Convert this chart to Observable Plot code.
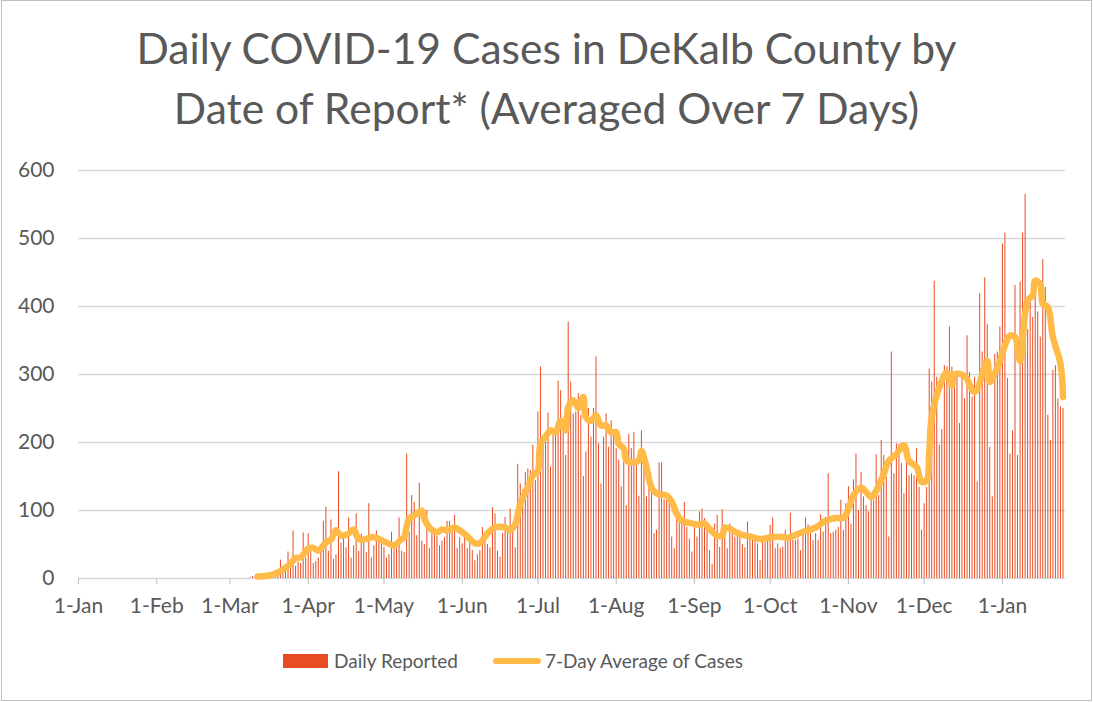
<!DOCTYPE html>
<html>
<head>
<meta charset="utf-8">
<script src="https://cdn.jsdelivr.net/npm/d3@7"></script>
<script src="https://cdn.jsdelivr.net/npm/@observablehq/plot@0.6"></script>
<style>
  body { margin: 0; background: #fff; font-family: Lato, "Open Sans", sans-serif; }
  #frame { position: absolute; left: 1px; top: 0px; width: 1091px; height: 701px; border: 1px solid #BFBFBF; box-sizing: border-box; }
  #title { position: absolute; left: 0; top: 18px; width: 1093px; text-align: center; color: #595959; font-size: 42.6px; line-height: 60px; }
  #chart { position: absolute; left: 0; top: 150px; }
  .lg { position: absolute; color: #595959; font-size: 19px; line-height: 20px; }
</style>
</head>
<body>
<div id="frame"></div>
<div id="title">Daily COVID-19 Cases in DeKalb County by<br>Date of Report* (Averaged Over 7 Days)</div>
<div id="chart"></div>
<div style="position:absolute;left:283px;top:654px;width:45px;height:14px;background:#E84C22"></div>
<div class="lg" style="left:334px;top:651px">Daily Reported</div>
<div style="position:absolute;left:493px;top:658px;width:48px;height:6px;border-radius:3px;background:#FFBA47"></div>
<div class="lg" style="left:545px;top:651px">7-Day Average of Cases</div>
<script>
// Daily reported cases, one value per day, each array starts on the given date
const dailyMar2020 = [1,3,2,3,5,2,4,6,5,8,12,10,27,9,15,39,20,70,18,24,22,67,30]; // from 2020-03-09
const dailyApr2020 = [66,45,22,25,30,48,84,105,40,86,28,35,157,52,60,45,89,30,48,95,40,65,55,38,110,30,48,70,62,55];
const dailyMay2020 = [46,30,35,68,52,45,89,40,38,183,68,122,112,63,140,55,50,100,44,75,70,62,48,55,60,84,84,72,93,44,60];
const dailyJun2020 = [51,60,44,58,41,26,35,41,75,68,50,45,104,95,40,31,66,90,72,102,80,45,168,139,130,156,161,159,196,144];
const dailyJul2020 = [245,311,210,213,243,164,213,223,290,276,230,181,377,289,242,245,272,240,150,186,250,208,250,326,198,139,208,242,193,232,215];
const dailyAug2020 = [191,174,135,171,107,212,191,215,174,121,217,183,120,132,132,66,71,170,170,116,115,115,61,44,95,90,90,112,75,58,39];
const dailySep2020 = [83,61,98,102,88,75,41,21,80,93,46,101,61,44,80,73,61,66,70,50,45,83,58,58,56,51,26,53,53,60];
const dailyOct2020 = [78,89,44,51,44,46,71,56,96,56,56,58,41,71,89,79,71,56,66,56,94,68,90,154,66,68,71,75,115,71,110];
const dailyNov2020 = [135,80,145,183,100,156,120,107,98,115,115,182,122,203,181,149,61,333,154,198,197,169,125,183,151,154,151,191,134,71];
const dailyDec2020 = [110,134,308,289,437,296,196,219,313,311,370,311,286,301,228,296,264,357,303,267,296,142,419,333,442,374,193,120,330,333,370];
const dailyJan2021 = [492,508,294,183,217,431,181,436,508,565,366,406,384,429,392,355,469,428,240,203,306,313,264,252,250];
const dailyStarts = ["2020-03-09","2020-04-01","2020-05-01","2020-06-01","2020-07-01","2020-08-01","2020-09-01","2020-10-01","2020-11-01","2020-12-01","2021-01-01"];
const dailyMonths = [dailyMar2020,dailyApr2020,dailyMay2020,dailyJun2020,dailyJul2020,dailyAug2020,dailySep2020,dailyOct2020,dailyNov2020,dailyDec2020,dailyJan2021];

// 7-day average line
const avgDates = ["2020-03-12","2020-03-16","2020-03-19","2020-03-22","2020-03-25","2020-03-27","2020-03-29","2020-04-01","2020-04-03","2020-04-05","2020-04-08","2020-04-10","2020-04-12","2020-04-14","2020-04-17","2020-04-19","2020-04-21","2020-04-24","2020-04-26","2020-04-29","2020-05-03","2020-05-05","2020-05-08","2020-05-09","2020-05-11","2020-05-14","2020-05-16","2020-05-17","2020-05-19","2020-05-22","2020-05-24","2020-05-26","2020-05-29","2020-05-31","2020-06-03","2020-06-06","2020-06-08","2020-06-10","2020-06-12","2020-06-14","2020-06-18","2020-06-20","2020-06-22","2020-06-24","2020-06-27","2020-06-29","2020-07-01","2020-07-02","2020-07-04","2020-07-06","2020-07-08","2020-07-10","2020-07-12","2020-07-13","2020-07-15","2020-07-17","2020-07-19","2020-07-20","2020-07-22","2020-07-24","2020-07-26","2020-07-28","2020-07-30","2020-08-01","2020-08-02","2020-08-04","2020-08-05","2020-08-07","2020-08-10","2020-08-11","2020-08-13","2020-08-15","2020-08-17","2020-08-21","2020-08-23","2020-08-25","2020-08-27","2020-08-31","2020-09-03","2020-09-05","2020-09-07","2020-09-10","2020-09-12","2020-09-13","2020-09-16","2020-09-19","2020-09-23","2020-09-27","2020-10-02","2020-10-06","2020-10-08","2020-10-13","2020-10-19","2020-10-23","2020-10-27","2020-10-30","2020-11-01","2020-11-03","2020-11-06","2020-11-10","2020-11-12","2020-11-15","2020-11-17","2020-11-20","2020-11-23","2020-11-25","2020-11-28","2020-11-30","2020-12-02","2020-12-03","2020-12-04","2020-12-07","2020-12-10","2020-12-12","2020-12-13","2020-12-17","2020-12-21","2020-12-26","2020-12-27","2020-12-30","2021-01-04","2021-01-06","2021-01-08","2021-01-11","2021-01-13","2021-01-14","2021-01-16","2021-01-17","2021-01-19","2021-01-21","2021-01-24","2021-01-25"];
const avgValues = [3,4,7,13,22,30,31,44,45,41,53,57,71,63,66,72,58,58,61,58,51,49,58,61,88,95,100,88,75,68,72,71,75,71,62,52,52,61,70,75,75,71,80,110,134,151,159,198,208,218,215,232,218,252,262,251,267,237,232,240,225,225,215,215,198,191,174,171,174,188,164,134,125,122,113,95,85,81,79,81,73,63,63,75,71,65,62,58,61,61,60,67,75,85,89,89,102,122,134,120,129,154,173,183,196,173,164,142,144,183,237,281,303,284,300,298,274,320,289,310,357,355,320,409,416,438,433,404,399,355,316,267];

const yTicks = [0,100,200,300,400,500,600];
const xTickDates = ["2020-01-01","2020-02-01","2020-03-01","2020-04-01","2020-05-01","2020-06-01","2020-07-01","2020-08-01","2020-09-01","2020-10-01","2020-11-01","2020-12-01","2021-01-01"];

const daily = [];
dailyMonths.forEach((arr, i) => {
  const start = new Date(dailyStarts[i]);
  arr.forEach((v, j) => daily.push({date: d3.utcDay.offset(start, j), value: v}));
});
const avg = avgDates.map((d, i) => ({date: new Date(d), value: avgValues[i]}));

const chart = Plot.plot({
  width: 1093,
  height: 480,
  marginLeft: 78,
  marginRight: 28,
  marginTop: 20,
  marginBottom: 52,
  style: {fontFamily: "Lato, 'Open Sans', sans-serif", fontSize: "21px", color: "#595959", background: "transparent"},
  x: {type: "utc", domain: [new Date("2020-01-01"), new Date("2021-01-26")]},
  y: {domain: [0, 600]},
  marks: [
    Plot.gridY(yTicks, {stroke: "#D9D9D9", strokeOpacity: 1, strokeWidth: 1.3}),
    Plot.axisY({ticks: yTicks, tickSize: 0, tickPadding: 24, fill: "#595959", label: null}),
    Plot.axisX({ticks: xTickDates.map(d => new Date(d)), tickFormat: d3.utcFormat("%-d-%b"), tickSize: 6, tickPadding: 14, stroke: "#BFBFBF", fill: "#595959", label: null}),
    Plot.ruleX(daily, {x: "date", y1: 0, y2: "value", stroke: "#E84C22", strokeWidth: 1}),
    Plot.line(avg, {x: "date", y: "value", stroke: "#FFBA47", strokeWidth: 6.5, strokeLinejoin: "round", strokeLinecap: "round", curve: "catmull-rom"})
  ]
});
document.getElementById("chart").appendChild(chart);
</script>
</body>
</html>
